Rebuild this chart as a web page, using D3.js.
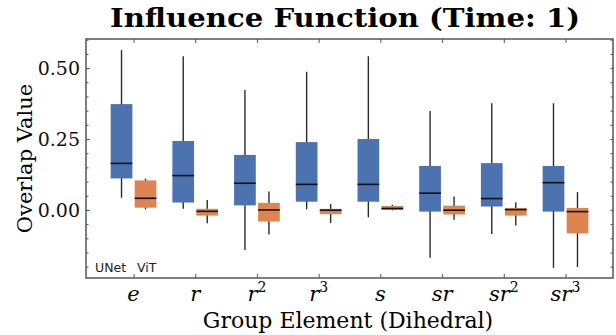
<!DOCTYPE html>
<html>
<head>
<meta charset="utf-8">
<script src="https://cdn.jsdelivr.net/npm/d3@7"></script>
<style>
  body { margin: 0; background: #fff; }
  svg { display: block; }
</style>
</head>
<body>
<svg id="chart" width="616" height="335"></svg>
<script>
// Group elements, shown as italic math labels with an optional superscript
var elements = ["e", "r", "r2", "r3", "s", "sr", "sr2", "sr3"];
var models = ["UNet", "ViT"];

// Box stats: [whiskerLow, q1, median, q3, whiskerHigh]
var unetStats = [
    [0.043, 0.111, 0.164, 0.373, 0.563],
    [0.004, 0.026, 0.121, 0.243, 0.542],
    [-0.141, 0.016, 0.094, 0.194, 0.423],
    [0.002, 0.029, 0.090, 0.239, 0.487],
    [-0.026, 0.029, 0.090, 0.250, 0.542],
    [-0.169, -0.006, 0.059, 0.155, 0.349],
    [-0.085, 0.012, 0.040, 0.165, 0.376],
    [-0.204, -0.006, 0.096, 0.155, 0.376]
];
var vitStats = [
    [0.002, 0.008, 0.041, 0.104, 0.110],
    [-0.047, -0.020, -0.005, 0.004, 0.035],
    [-0.087, -0.041, 0.000, 0.025, 0.065],
    [-0.046, -0.015, -0.001, 0.004, 0.021],
    [-0.002, 0.000, 0.005, 0.014, 0.018],
    [-0.035, -0.016, -0.001, 0.015, 0.047],
    [-0.055, -0.020, 0.001, 0.007, 0.027],
    [-0.201, -0.083, -0.006, 0.007, 0.063]
];
var yTicks = [0.00, 0.25, 0.50];
var colors = ["#4C72B0", "#DD8452"];

var svg = d3.select("#chart");
var plotL = 86, plotR = 613, plotT = 39, plotB = 278;

var x = d3.scalePoint().domain(elements).range([plotL, plotR]).padding(0.77);
var y = d3.scaleLinear().domain([-0.24, 0.6025]).range([plotB, plotT]);

var serif = "'DejaVu Serif', serif";

// Title
svg.append("text")
    .attr("x", 345)
    .attr("y", 27)
    .attr("text-anchor", "middle")
    .attr("font-family", serif)
    .attr("font-weight", "bold")
    .attr("font-size", 25.5)
    .attr("textLength", 470)
    .attr("lengthAdjust", "spacingAndGlyphs")
    .text("Influence Function (Time: 1)");

// Boxes
var boxW = 21.7, off = 12;
[unetStats, vitStats].forEach(function (stats, m) {
    var g = svg.append("g");
    stats.forEach(function (s, i) {
        var cx = x(elements[i]) + (m == 0 ? -off : off);
        g.append("line")
            .attr("x1", cx).attr("x2", cx)
            .attr("y1", y(s[0])).attr("y2", y(s[4]))
            .attr("stroke", "#2a2a2a")
            .attr("stroke-width", 1.4);
        g.append("rect")
            .attr("x", cx - boxW / 2)
            .attr("width", boxW)
            .attr("y", y(s[3]))
            .attr("height", y(s[1]) - y(s[3]))
            .attr("fill", colors[m]);
        g.append("line")
            .attr("x1", cx - boxW / 2).attr("x2", cx + boxW / 2)
            .attr("y1", y(s[2])).attr("y2", y(s[2]))
            .attr("stroke", "#111")
            .attr("stroke-width", 1.6);
    });
});

// Frame
svg.append("rect")
    .attr("x", plotL).attr("y", plotT)
    .attr("width", plotR - plotL).attr("height", plotB - plotT)
    .attr("fill", "none")
    .attr("stroke", "#555")
    .attr("stroke-width", 1.5);

// Ticks pointing inward
var minor = d3.range(-0.20, 0.601, 0.05);
var yAxisL = d3.axisLeft(y).tickValues(minor).tickSize(-2.5).tickFormat("");
var yAxisR = d3.axisRight(y).tickValues(minor).tickSize(-2.5).tickFormat("");
svg.append("g").attr("transform", "translate(" + plotL + ",0)").call(yAxisL);
svg.append("g").attr("transform", "translate(" + plotR + ",0)").call(yAxisR);
var yMajor = svg.append("g").attr("transform", "translate(" + plotL + ",0)")
    .call(d3.axisLeft(y).tickValues(yTicks).tickSize(-4).tickPadding(6).tickFormat(d3.format(".2f")));
yMajor.selectAll("text")
    .attr("font-family", serif)
    .attr("font-size", 19)
    .attr("fill", "#111")
    .attr("dy", "0.35em");
svg.append("g").attr("transform", "translate(0," + plotT + ")")
    .call(d3.axisTop(x).tickSize(-4).tickFormat(""));
svg.append("g").attr("transform", "translate(0," + plotB + ")")
    .call(d3.axisBottom(x).tickSize(-4).tickFormat(""));
svg.selectAll(".domain").remove();
svg.selectAll(".tick line").attr("stroke", "#555").attr("stroke-width", 1);

// X tick labels (math italic with superscripts)
elements.forEach(function (el) {
    var base = el.replace(/[0-9]/g, "");
    var sup = el.replace(/[^0-9]/g, "");
    var t = svg.append("text")
        .attr("x", x(el))
        .attr("y", 301)
        .attr("text-anchor", "middle")
        .attr("font-family", serif)
        .attr("font-size", 21);
    t.append("tspan").attr("font-style", "italic").text(base);
    if (sup) {
        t.append("tspan").attr("font-size", 14).attr("dy", -9).text(sup);
    }
});

// Axis labels
svg.append("text")
    .attr("x", 348)
    .attr("y", 328)
    .attr("text-anchor", "middle")
    .attr("font-family", serif)
    .attr("font-size", 22)
    .text("Group Element (Dihedral)");
svg.append("text")
    .attr("transform", "translate(32," + ((plotT + plotB) / 2) + ") rotate(-90)")
    .attr("text-anchor", "middle")
    .attr("font-family", serif)
    .attr("font-size", 21)
    .text("Overlap Value");

// Model labels in the corner
models.forEach(function (name, m) {
    svg.append("text")
        .attr("x", m == 0 ? 95 : 137)
        .attr("y", 272)
        .attr("font-family", "'DejaVu Sans', sans-serif")
        .attr("font-size", 12.5)
        .attr("fill", "#222")
        .text(name);
});
</script>
</body>
</html>
